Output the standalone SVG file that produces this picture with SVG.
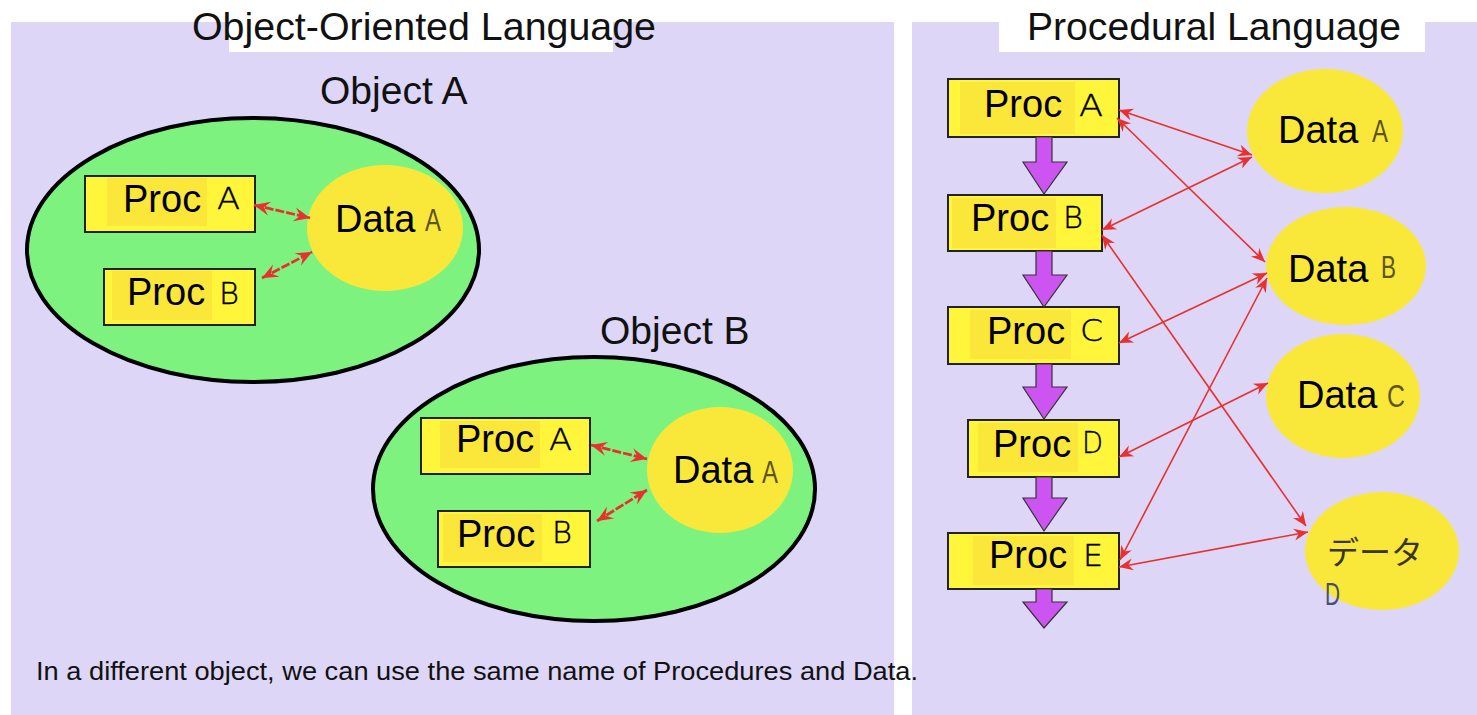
<svg xmlns="http://www.w3.org/2000/svg" width="1477" height="715" viewBox="0 0 1477 715">
  <style>
    .panel { fill: #ddd6f7; }
    .titlebg { fill: #ffffff; }
    .title { font-family: "Liberation Sans", Arial, sans-serif; font-size: 39px; fill: #111; }
    .obj { fill: #7ef27f; stroke: #000; stroke-width: 4; }
    .data { fill: #f9e83a; }
    .box { fill: #fff53a; stroke: #222; stroke-width: 2; }
    .boxin { fill: #fbe63a; }
    .lbl { font-family: "Liberation Sans", Arial, sans-serif; font-size: 38px; fill: #000; }
    .ltr { font-family: "DejaVu Sans", "Liberation Sans", sans-serif; font-weight: 200; font-size: 30px; fill: #000; stroke: #000; stroke-width: 0.4; }
    .dltr { font-family: "Liberation Sans", Arial, sans-serif; font-size: 32px; fill: #5e5420; }
    .jp { font-family: "Noto Sans CJK JP", "Noto Sans", sans-serif; font-weight: 400; font-size: 32px; fill: #3a3618; }
    .note { font-family: "Liberation Sans", Arial, sans-serif; font-size: 26px; fill: #111; }
    .flow { fill: #cc55f2; stroke: #333; stroke-width: 1.2; stroke-linejoin: miter; }
    .link { fill: none; stroke: #e8302e; stroke-width: 1.6; }
    .link2 { fill: none; stroke: #e8302e; stroke-width: 2.8; stroke-dasharray: 9 2; }
  </style>
  <defs>
    <marker id="head" viewBox="-15 -7 17 14" refX="0" refY="0" markerWidth="17" markerHeight="14" markerUnits="userSpaceOnUse" orient="auto-start-reverse">
      <path d="M0,0 L-14,-6 L-9.5,0 L-14,6 Z" fill="#e8302e"/>
    </marker>
    <marker id="head2" viewBox="-17 -8 19 16" refX="0" refY="0" markerWidth="19" markerHeight="16" markerUnits="userSpaceOnUse" orient="auto-start-reverse">
      <path d="M0,0 L-16,-7 L-10,0 L-16,7 Z" fill="#e8302e"/>
    </marker>
  </defs>

  <!-- panels -->
  <rect class="panel" x="11" y="22" width="883" height="693"/>
  <rect class="panel" x="912" y="22" width="565" height="693"/>
  <rect class="titlebg" x="229" y="22" width="384" height="30"/>
  <rect class="titlebg" x="999" y="22" width="426" height="30"/>
  <text class="title" x="192" y="40" textLength="464" lengthAdjust="spacingAndGlyphs">Object-Oriented Language</text>
  <text class="title" x="1027" y="40" textLength="374" lengthAdjust="spacingAndGlyphs">Procedural Language</text>

  <!-- object A -->
  <g id="objectA">
    <text class="title" x="320" y="104">Object A</text>
    <ellipse class="obj" cx="253" cy="250" rx="226" ry="132"/>
  </g>
  <g id="objA-procA">
    <rect class="box" x="85" y="176" width="170" height="56"/>
    <rect class="boxin" x="107" y="178" width="100" height="48"/>
    <text class="lbl" x="123" y="212">Proc</text>
    <text class="ltr" x="217" y="209" textLength="23" lengthAdjust="spacingAndGlyphs">A</text>
  </g>
  <g id="objA-procB">
    <rect class="box" x="104" y="269" width="151" height="56"/>
    <rect class="boxin" x="112" y="271" width="100" height="49"/>
    <text class="lbl" x="127" y="305">Proc</text>
    <text class="ltr" x="219" y="304" textLength="20" lengthAdjust="spacingAndGlyphs">B</text>
  </g>
  <g id="objA-dataA">
    <ellipse class="data" cx="385" cy="228" rx="78" ry="63"/>
    <text class="lbl" x="335" y="232">Data</text>
    <text class="dltr" x="425" y="231" textLength="16" lengthAdjust="spacingAndGlyphs">A</text>
  </g>

  <!-- object B -->
  <g id="objectB">
    <text class="title" x="600" y="344">Object B</text>
    <ellipse class="obj" cx="594" cy="489" rx="221" ry="132"/>
  </g>
  <g id="objB-procA">
    <rect class="box" x="421" y="418" width="169" height="56"/>
    <rect class="boxin" x="440" y="421" width="100" height="47"/>
    <text class="lbl" x="456" y="452">Proc</text>
    <text class="ltr" x="549" y="450" textLength="23" lengthAdjust="spacingAndGlyphs">A</text>
  </g>
  <g id="objB-procB">
    <rect class="box" x="438" y="511" width="152" height="56"/>
    <rect class="boxin" x="443" y="514" width="99" height="48"/>
    <text class="lbl" x="457" y="547">Proc</text>
    <text class="ltr" x="552" y="543" textLength="20" lengthAdjust="spacingAndGlyphs">B</text>
  </g>
  <g id="objB-dataA">
    <ellipse class="data" cx="720" cy="470" rx="73" ry="63"/>
    <text class="lbl" x="673" y="483">Data</text>
    <text class="dltr" x="762" y="483" textLength="16" lengthAdjust="spacingAndGlyphs">A</text>
  </g>

  <text class="note" x="36" y="680" textLength="882" lengthAdjust="spacingAndGlyphs">In a different object, we can use the same name of Procedures and Data.</text>

  <!-- procedural side: procedures -->
  <g id="procA">
    <rect class="box" x="948" y="79" width="171" height="58"/>
    <rect class="boxin" x="960" y="82" width="115" height="52"/>
    <text class="lbl" x="984" y="117">Proc</text>
    <text class="ltr" x="1079" y="116" textLength="24" lengthAdjust="spacingAndGlyphs">A</text>
  </g>
  <g id="procB">
    <rect class="box" x="948" y="195" width="154" height="56"/>
    <rect class="boxin" x="952" y="198" width="104" height="50"/>
    <text class="lbl" x="971" y="231">Proc</text>
    <text class="ltr" x="1063" y="228" textLength="20" lengthAdjust="spacingAndGlyphs">B</text>
  </g>
  <g id="procC">
    <rect class="box" x="948" y="307" width="171" height="57"/>
    <rect class="boxin" x="970" y="310" width="101" height="49"/>
    <text class="lbl" x="987" y="344">Proc</text>
    <text class="ltr" x="1080" y="341" textLength="23" lengthAdjust="spacingAndGlyphs">C</text>
  </g>
  <g id="procD">
    <rect class="box" x="968" y="420" width="151" height="57"/>
    <rect class="boxin" x="978" y="423" width="100" height="49"/>
    <text class="lbl" x="993" y="457">Proc</text>
    <text class="ltr" x="1082" y="453" textLength="21" lengthAdjust="spacingAndGlyphs">D</text>
  </g>
  <g id="procE">
    <rect class="box" x="948" y="533" width="171" height="56"/>
    <rect class="boxin" x="973" y="536" width="101" height="49"/>
    <text class="lbl" x="989" y="568">Proc</text>
    <text class="ltr" x="1083" y="566" textLength="20" lengthAdjust="spacingAndGlyphs">E</text>
  </g>

  <!-- procedural side: data -->
  <g id="dataA">
    <ellipse class="data" cx="1325" cy="131" rx="78" ry="62"/>
    <text class="lbl" x="1278" y="143">Data</text>
    <text class="dltr" x="1372" y="142" textLength="16" lengthAdjust="spacingAndGlyphs">A</text>
  </g>
  <g id="dataB">
    <ellipse class="data" cx="1346" cy="266" rx="80" ry="59"/>
    <text class="lbl" x="1288" y="282">Data</text>
    <text class="dltr" x="1381" y="278" textLength="15" lengthAdjust="spacingAndGlyphs">B</text>
  </g>
  <g id="dataC">
    <ellipse class="data" cx="1343" cy="396" rx="77" ry="62"/>
    <text class="lbl" x="1297" y="408">Data</text>
    <text class="dltr" x="1387" y="407" textLength="18" lengthAdjust="spacingAndGlyphs">C</text>
  </g>
  <g id="dataD">
    <ellipse class="data" cx="1382" cy="551" rx="77" ry="59"/>
    <text class="jp" x="1327" y="564" textLength="96" lengthAdjust="spacingAndGlyphs">データ</text>
    <text class="dltr" x="1325" y="605" textLength="15" lengthAdjust="spacingAndGlyphs" style="fill:#46506a">D</text>
  </g>

  <!-- connectors -->
  <g id="connectors">
    <!-- control flow between procedures -->
    <path class="flow" d="M1036,137 H1052 V162 H1067 L1044,194 L1023,162 H1036 Z"/>
    <path class="flow" d="M1036,251 H1052 V275 H1067 L1044,307 L1023,275 H1036 Z"/>
    <path class="flow" d="M1036,364 H1052 V387 H1067 L1044,419 L1023,387 H1036 Z"/>
    <path class="flow" d="M1036,477 H1052 V498 H1067 L1044,531 L1023,498 H1036 Z"/>
    <path class="flow" d="M1036,589 H1052 V602 H1067 L1044,628 L1023,602 H1036 Z"/>

    <!-- object A links -->
    <line class="link2" x1="254" y1="205" x2="310" y2="218" marker-start="url(#head2)" marker-end="url(#head2)"/>
    <line class="link2" x1="262" y1="278" x2="312" y2="252" marker-start="url(#head2)" marker-end="url(#head2)"/>
    <!-- object B links -->
    <line class="link2" x1="591" y1="445" x2="647" y2="459" marker-start="url(#head2)" marker-end="url(#head2)"/>
    <line class="link2" x1="597" y1="521" x2="647" y2="490" marker-start="url(#head2)" marker-end="url(#head2)"/>

    <!-- procedure/data access links -->
    <line class="link" x1="1119" y1="110" x2="1252" y2="155" marker-start="url(#head)" marker-end="url(#head)"/>
    <line class="link" x1="1117" y1="118" x2="1265" y2="262" marker-start="url(#head)" marker-end="url(#head)"/>
    <line class="link" x1="1102" y1="230" x2="1252" y2="157" marker-start="url(#head)" marker-end="url(#head)"/>
    <line class="link" x1="1102" y1="235" x2="1306" y2="526" marker-start="url(#head)" marker-end="url(#head)"/>
    <line class="link" x1="1119" y1="343" x2="1267" y2="273" marker-start="url(#head)" marker-end="url(#head)"/>
    <line class="link" x1="1120" y1="560" x2="1267" y2="278" marker-start="url(#head)" marker-end="url(#head)"/>
    <line class="link" x1="1119" y1="457" x2="1268" y2="383" marker-start="url(#head)" marker-end="url(#head)"/>
    <line class="link" x1="1119" y1="567" x2="1308" y2="532" marker-start="url(#head)" marker-end="url(#head)"/>
  </g>
</svg>
